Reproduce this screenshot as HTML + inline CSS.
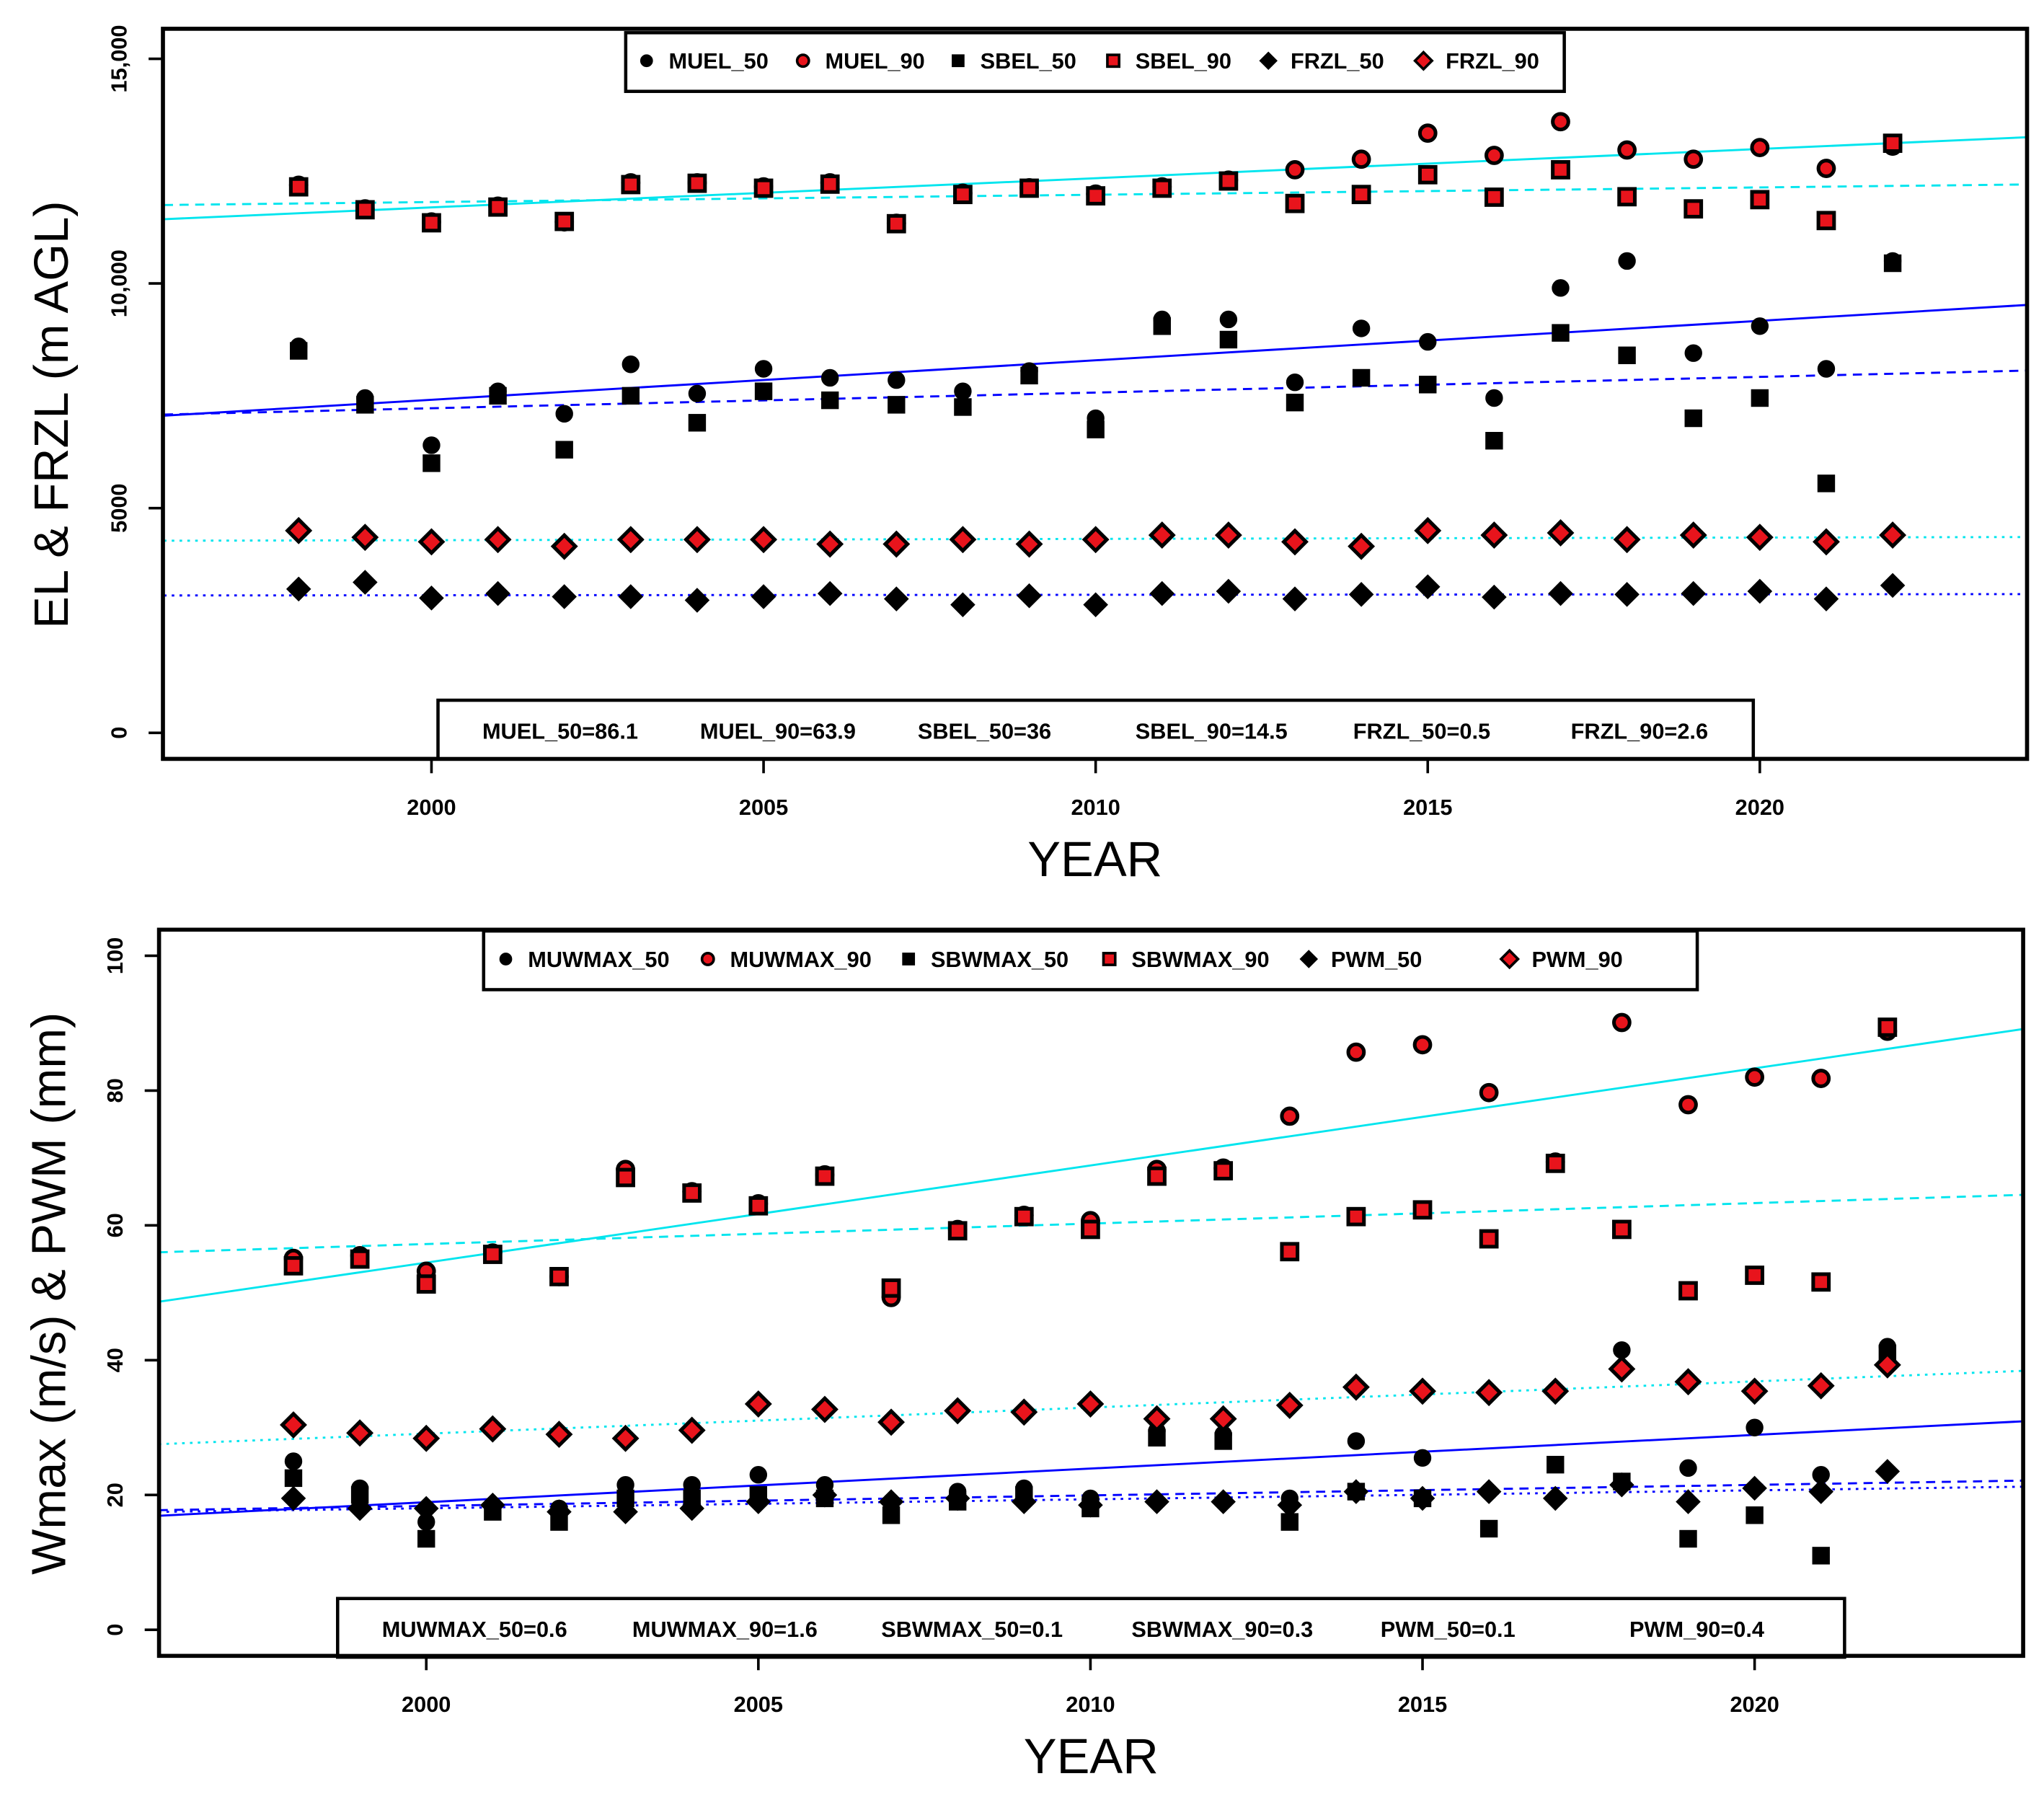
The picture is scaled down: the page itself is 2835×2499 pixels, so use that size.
<!DOCTYPE html>
<html><head><meta charset="utf-8"><style>
html,body{margin:0;padding:0;background:#fff}
svg{display:block}
text{font-family:"Liberation Sans",Arial,sans-serif}
</style></head><body>
<svg id="chart" xmlns="http://www.w3.org/2000/svg" width="2835" height="2499" viewBox="0 0 1568 1382">
<rect x="0" y="0" width="1568" height="1382" fill="#fff"/>
</svg>
<script>
const years = [1998,1999,2000,2001,2002,2003,2004,2005,2006,2007,2008,2009,2010,2011,2012,2013,2014,2015,2016,2017,2018,2019,2020,2021,2022];
// top panel
const muel50 = [8600,7450,6400,7600,7100,8200,7550,8100,7900,7850,7600,8050,7000,9200,9200,7800,9000,8700,7450,9900,10500,8450,9050,8100,10500];
const sbel50 = [8500,7300,6000,7500,6300,7500,6900,7600,7400,7300,7250,7950,6750,9050,8750,7350,7900,7750,6500,8900,8400,7000,7450,5550,10450];
const muel90 = [12185,11660,11370,11720,11370,12240,12240,12150,12240,11340,12010,12130,11990,12150,12300,12530,12765,13345,12850,13600,12970,12765,13025,12560,13055];
const sbel90 = [12150,11640,11350,11700,11380,12200,12230,12120,12210,11330,11980,12120,11950,12120,12280,11780,11980,12420,11920,12530,11930,11660,11865,11400,13120];
const frzl50 = [3200,3350,3000,3100,3030,3030,2950,3030,3100,2980,2850,3050,2850,3100,3150,2980,3080,3250,3020,3100,3080,3100,3150,2980,3280];
const frzl90 = [4500,4350,4250,4300,4150,4300,4300,4300,4200,4200,4300,4200,4300,4400,4400,4250,4150,4500,4400,4450,4300,4400,4350,4250,4400];
const topYTicks = [0,5000,10000,15000];
const topYTickLabels = ["0","5000","10,000","15,000"];
const topLegend = ["MUEL_50","MUEL_90","SBEL_50","SBEL_90","FRZL_50","FRZL_90"];
const topStats = ["MUEL_50=86.1","MUEL_90=63.9","SBEL_50=36","SBEL_90=14.5","FRZL_50=0.5","FRZL_90=2.6"];
// bottom panel
const muw50 = [25,21,16,18.5,18,21.5,21.5,23,21.5,19,20.5,21,19.5,29.5,29,19.5,28,25.5,20.5,19.5,41.5,24,30,23,42];
const sbw50 = [22.5,20,13.5,17.5,16,19.5,19.5,20,19.5,17,19,20,18,28.5,28,16,20.5,19.5,15,24.5,22,13.5,17,11,41];
const muw90 = [55.1,55.5,53.2,55.9,52.4,68.3,65,63.2,67.5,49.3,59.4,61.5,60.7,68.3,68.5,76.2,85.7,86.8,79.7,69.4,90.1,77.9,82,81.8,88.8];
const sbw90 = [54,55,51.3,55.7,52.4,67.1,64.8,62.9,67.3,50.7,59.2,61.3,59.4,67.3,68.1,56.1,61.3,62.3,58,69.2,59.4,50.3,52.6,51.6,89.4];
const pwm50 = [19.5,18,18,18.5,17.5,17.5,18,19,20,19,19.5,19,18.5,19,19,18.5,20.5,19.5,20.5,19.5,21.5,19,21,20.5,23.5];
const pwm90 = [30.4,29.2,28.4,29.8,29,28.4,29.6,33.5,32.7,30.8,32.5,32.3,33.5,31.3,31.3,33.3,36,35.4,35.2,35.4,38.7,36.8,35.4,36.2,39.3];
const botYTicks = [0,20,40,60,80,100];
const botYTickLabels = ["0","20","40","60","80","100"];
const botLegend = ["MUWMAX_50","MUWMAX_90","SBWMAX_50","SBWMAX_90","PWM_50","PWM_90"];
const botStats = ["MUWMAX_50=0.6","MUWMAX_90=1.6","SBWMAX_50=0.1","SBWMAX_90=0.3","PWM_50=0.1","PWM_90=0.4"];
const xTicks = [2000,2005,2010,2015,2020];

const NS="http://www.w3.org/2000/svg";
const svg=document.getElementById('chart');
function mk(tag,attrs,parent){const e=document.createElementNS(NS,tag);for(const k in attrs)e.setAttribute(k,attrs[k]);(parent||svg).appendChild(e);return e;}
function fit(xs,ys){const n=xs.length;let mx=0,my=0;for(let i=0;i<n;i++){mx+=xs[i];my+=ys[i];}mx/=n;my/=n;let sxy=0,sxx=0;for(let i=0;i<n;i++){sxy+=(xs[i]-mx)*(ys[i]-my);sxx+=(xs[i]-mx)**2;}const b=sxy/sxx;return [my-b*mx,b];}
function marker(g,shape,cx,cy,red,name){
  let e;
  const sw=red?2.8:1.5;
  if(shape==='c'){e=mk('circle',{cx:cx,cy:cy,r:6,fill:red?'#e8141c':'#000',stroke:'#000','stroke-width':sw},g);}
  else if(shape==='s'){e=mk('rect',{x:cx-6,y:cy-6,width:12,height:12,fill:red?'#e8141c':'#000',stroke:'#000','stroke-width':sw},g);}
  else {const d=8.5;e=mk('polygon',{points:`${cx},${cy-d} ${cx+d},${cy} ${cx},${cy+d} ${cx-d},${cy}`,fill:red?'#e8141c':'#000',stroke:'#000','stroke-width':sw},g);}
  
  
}
function panel(P){
  const g=mk('g',{});
  
  
  const xs=v=>P.x0+(v-2000)*P.xpx;
  const ys=v=>P.yz-(v)*P.ypx;
  const xa=1995.5, xb=2025;
  const clip=mk('clipPath',{id:'clip'+P.id},g);
  mk('rect',{x:P.L,y:P.T,width:P.R-P.L,height:P.B-P.T},clip);
  const tg=mk('g',{'clip-path':`url(#clip${P.id})`},g);
  P.series.forEach(s=>{
    if(!s.trend)return;
    const [a,b]=fit(years,s.data);
    const l=mk('line',{x1:xs(xa),y1:ys(a+b*xa),x2:xs(xb),y2:ys(a+b*xb),stroke:s.trend.c,'stroke-width':1.6,'stroke-dasharray':s.trend.d},tg);
    
    
  });
  P.series.forEach(s=>{
    s.data.forEach((v,i)=>marker(g,s.shape,xs(years[i]),ys(v),s.red,s.label.toLowerCase().replace(/_/g,'-')+'-point'));
  });
  const box=mk('rect',{x:P.L,y:P.T,width:P.R-P.L,height:P.B-P.T,fill:'none',stroke:'#000','stroke-width':3},g);
  
  
  P.yt.forEach((v,i)=>{
    mk('line',{x1:P.L-11,y1:ys(v),x2:P.L,y2:ys(v),stroke:'#000','stroke-width':2},g);
    const t=mk('text',{x:0,y:0,transform:`translate(${P.L-28},${ys(v)}) rotate(-90)`,'text-anchor':'middle','font-size':17,'font-weight':'bold'},g);
    t.textContent=P.ytl[i];
    
    
  });
  xTicks.forEach(v=>{
    mk('line',{x1:xs(v),y1:P.B,x2:xs(v),y2:P.B+11,stroke:'#000','stroke-width':2},g);
    const t=mk('text',{x:xs(v),y:P.B+43,'text-anchor':'middle','font-size':17,'font-weight':'bold'},g);
    t.textContent=v;
    
    
  });
  const yt=mk('text',{x:0,y:0,transform:`translate(${P.ytx},${P.yty}) rotate(-90)`,'text-anchor':'middle','font-size':37},g);
  yt.textContent=P.ytitle;
  
  
  const xt=mk('text',{x:P.xtx,y:P.xty,'text-anchor':'middle','font-size':38},g);
  xt.textContent='YEAR';
  
  
  const lg=mk('g',{},g);
  
  
  mk('rect',{x:P.lg.x,y:P.lg.y,width:P.lg.w,height:P.lg.h,fill:'#fff',stroke:'#000','stroke-width':2.5},lg);
  P.series.forEach((s,i)=>{
    const mx=P.lg.mx[i], my=P.lg.y+P.lg.h/2-1;
    const sh=s.shape;
    const sw=s.red?2:0.8;
    if(sh==='c') mk('circle',{cx:mx,cy:my,r:4.5,fill:s.red?'#e8141c':'#000',stroke:'#000','stroke-width':sw},lg);
    else if(sh==='s') mk('rect',{x:mx-4.5,y:my-4.5,width:9,height:9,fill:s.red?'#e8141c':'#000',stroke:'#000','stroke-width':sw},lg);
    else mk('polygon',{points:`${mx},${my-6.5} ${mx+6.5},${my} ${mx},${my+6.5} ${mx-6.5},${my}`,fill:s.red?'#e8141c':'#000',stroke:'#000','stroke-width':sw},lg);
    const t=mk('text',{x:mx+17,y:my+6,'font-size':17,'font-weight':'bold'},lg);
    t.textContent=P.legend[i];
    
    
  });
  const sg=mk('g',{},g);
  
  
  mk('rect',{x:P.st.x,y:P.st.y,width:P.st.w,height:P.st.h,fill:'#fff',stroke:'#000','stroke-width':2.5},sg);
  P.stats.forEach((s,i)=>{
    const t=mk('text',{x:P.st.tx[i],y:P.st.y+P.st.h/2+7,'font-size':17,'font-weight':'bold'},sg);
    t.textContent=s;
    
    
  });
  mk('rect',{x:P.L,y:P.T,width:P.R-P.L,height:P.B-P.T,fill:'none',stroke:'#000','stroke-width':3},g);
}
panel({id:1,name:'el-frzl-panel',L:125,R:1555,T:22,B:582,x0:331,xpx:50.95,yz:562,ypx:(562-45)/15000,
  yt:topYTicks,ytl:topYTickLabels,ytitle:'EL & FRZL (m AGL)',ytx:52,yty:318,xtx:840,xty:672,
  legend:topLegend,stats:topStats,
  lg:{x:480,y:25,w:720,h:45,mx:[496,616,735,854,973,1092]},
  st:{x:336,y:537,w:1009,h:45,tx:[370,537,704,871,1038,1205]},
  series:[
    {label:'MUEL_50',data:muel50,shape:'c',red:false,trend:{c:'#0000ff',d:''}},
    {label:'MUEL_90',data:muel90,shape:'c',red:true,trend:{c:'#00e5ee',d:''}},
    {label:'SBEL_50',data:sbel50,shape:'s',red:false,trend:{c:'#0000ff',d:'7,5'}},
    {label:'SBEL_90',data:sbel90,shape:'s',red:true,trend:{c:'#00e5ee',d:'7,5'}},
    {label:'FRZL_50',data:frzl50,shape:'d',red:false,trend:{c:'#0000ff',d:'2,4'}},
    {label:'FRZL_90',data:frzl90,shape:'d',red:true,trend:{c:'#00e5ee',d:'2,4'}}
  ]});
panel({id:2,name:'wmax-pwm-panel',L:122,R:1552,T:713,B:1270,x0:327,xpx:50.95,yz:1250,ypx:(1250-733)/100,
  yt:botYTicks,ytl:botYTickLabels,ytitle:'Wmax (m/s) & PWM (mm)',ytx:50,yty:992,xtx:837,xty:1360,
  legend:botLegend,stats:botStats,
  lg:{x:371,y:714,w:931,h:45,mx:[388,543,697,851,1004,1158]},
  st:{x:259,y:1226,w:1156,h:45,tx:[293,485,676,868,1059,1250]},
  series:[
    {label:'MUWMAX_50',data:muw50,shape:'c',red:false,trend:{c:'#0000ff',d:''}},
    {label:'MUWMAX_90',data:muw90,shape:'c',red:true,trend:{c:'#00e5ee',d:''}},
    {label:'SBWMAX_50',data:sbw50,shape:'s',red:false,trend:{c:'#0000ff',d:'7,5'}},
    {label:'SBWMAX_90',data:sbw90,shape:'s',red:true,trend:{c:'#00e5ee',d:'7,5'}},
    {label:'PWM_50',data:pwm50,shape:'d',red:false,trend:{c:'#0000ff',d:'2,4'}},
    {label:'PWM_90',data:pwm90,shape:'d',red:true,trend:{c:'#00e5ee',d:'2,4'}}
  ]});
</script>
</body></html>
